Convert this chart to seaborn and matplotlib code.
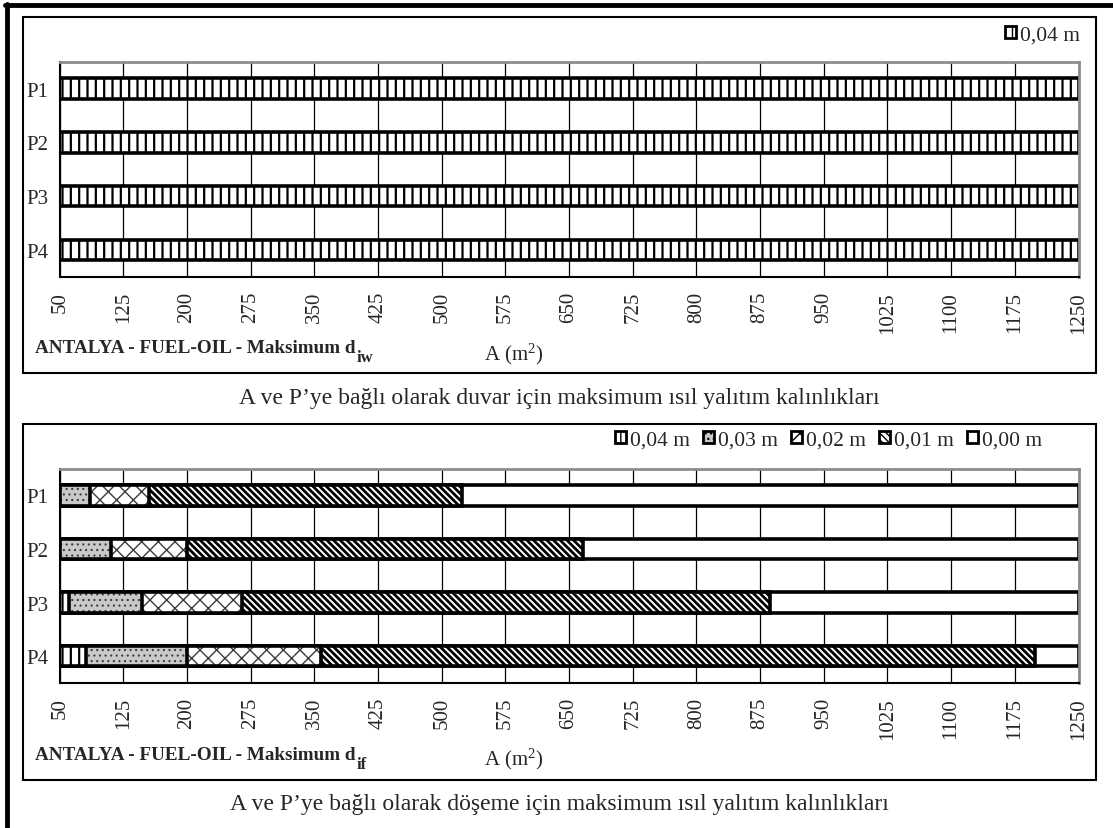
import matplotlib
matplotlib.use("Agg")
import matplotlib.pyplot as plt
import seaborn as sns
from matplotlib.patches import Patch, Rectangle
from matplotlib.lines import Line2D

# ---- data -------------------------------------------------------------
categories = ["P1", "P2", "P3", "P4"]
thickness_labels = ["0,04 m", "0,03 m", "0,02 m", "0,01 m", "0,00 m"]
area_ticks = list(range(50, 1251, 75))

# wall: upper limit of A (m2) for each insulation thickness
wall_ends_004 = [1250, 1250, 1250, 1250]

# floor: upper limit of A (m2) for each insulation thickness
floor_ends_004 = [50, 50, 61, 81]
floor_ends_003 = [86, 110, 147, 200]
floor_ends_002 = [155, 200, 265, 358]
floor_ends_001 = [524, 666, 887, 1199]
floor_ends_000 = [1250, 1250, 1250, 1250]

# ---- style ------------------------------------------------------------
sns.set_style("white")
plt.rcParams["font.family"] = ["Liberation Serif", "DejaVu Serif"]
plt.rcParams["mathtext.fontset"] = "custom"
plt.rcParams["mathtext.rm"] = "Liberation Serif"
plt.rcParams["mathtext.bf"] = "Liberation Serif:bold"
plt.rcParams["mathtext.it"] = "Liberation Serif:italic"

# face, hatch, hatch colour, hatch line width
styles = {
    "0,04 m": ("white", "||", "black", 1.6),
    "0,03 m": ("#c9c9c9", "...", "#3c3c3c", 0.8),
    "0,02 m": ("white", "xx", "#3a3a3a", 1.0),
    "0,01 m": ("white", "\\\\\\\\\\", "black", 2.0),
    "0,00 m": ("white", "", "black", 1.0),
}

TICK_FS = 15
LEG_FS = 15.5
TITLE_FS = 13.8
SUB_FS = 12
CAP_FS = 17
W, H = 1113, 829
BAR_W = 0.38


def draw_segment(ax, ends, label):
    face, hatch, hcol, hlw = styles[label]
    with plt.rc_context({"hatch.linewidth": hlw}):
        sns.barplot(x=ends, y=categories, orient="h", width=BAR_W,
                    color=face, edgecolor=hcol, linewidth=0, hatch=hatch,
                    ax=ax)
        for p in ax.patches[-len(categories):]:
            if hasattr(p, "set_hatch_linewidth"):
                p.set_hatch_linewidth(hlw)
    sns.barplot(x=ends, y=categories, orient="h", width=BAR_W,
                fill=False, color="black", linewidth=2.6, ax=ax)


def style_axes(ax):
    ax.set_xlim(50, 1250)
    ax.set_ylim(3.5, -0.5)
    ax.set_xticks(area_ticks)
    ax.set_xticklabels([str(t) for t in area_ticks], rotation=90,
                       fontsize=TICK_FS)
    ax.set_yticks(range(len(categories)))
    ax.set_yticklabels(categories, fontsize=TICK_FS)
    ax.set_yticks([i - 0.5 for i in range(len(categories) + 1)], minor=True)
    ax.tick_params(axis="y", which="major", length=0, pad=8)
    ax.tick_params(axis="y", which="minor", length=5, width=1.2,
                   direction="out", color="black")
    ax.tick_params(axis="x", length=5, width=1.2, direction="out",
                   color="black", pad=5)
    ax.grid(axis="x", color="black", linewidth=0.9)
    ax.grid(axis="y", visible=False)
    ax.set_axisbelow(True)
    ax.set_xlabel("")
    ax.set_ylabel("")
    for s in ("left", "bottom"):
        ax.spines[s].set_color("black")
        ax.spines[s].set_linewidth(1.5)
    for s in ("top", "right"):
        ax.spines[s].set_color("#8c8c8c")
        ax.spines[s].set_linewidth(2.0)
        ax.spines[s].set_visible(True)


def legend_handles(labels):
    hs = []
    for lab in labels:
        face, hatch, hcol, hlw = styles[lab]
        hs.append(Patch(facecolor=face, edgecolor="black", hatch=hatch,
                        linewidth=2.0, label=lab))
    return hs


def panel_title(ax, y_px, sub):
    t = ax.figure.text(35 / W, 1 - y_px / H, "ANTALYA - FUEL-OIL - Maksimum d",
                       fontsize=TITLE_FS, fontweight="bold", ha="left",
                       va="baseline")
    ax.annotate(sub, xy=(1, 0), xycoords=t, xytext=(0.5, -3.5),
                textcoords="offset points", fontsize=SUB_FS,
                fontweight="bold", ha="left", va="baseline",
                annotation_clip=False)


fig = plt.figure(figsize=(W / 100, H / 100), dpi=100)

left = 59.7 / W
width = (1078.5 - 59.7) / W
ax1 = fig.add_axes([left, 1 - 278 / H, width, (278 - 62.7) / H])
ax2 = fig.add_axes([left, 1 - 684 / H, width, (684 - 469.5) / H])

# ---- wall panel -------------------------------------------------------
draw_segment(ax1, wall_ends_004, "0,04 m")
style_axes(ax1)

# ---- floor panel (overlay from widest to narrowest) --------------------
floor_series = [
    ("0,00 m", floor_ends_000),
    ("0,01 m", floor_ends_001),
    ("0,02 m", floor_ends_002),
    ("0,03 m", floor_ends_003),
    ("0,04 m", floor_ends_004),
]
for lab, ends in floor_series:
    draw_segment(ax2, ends, lab)
style_axes(ax2)

# ---- legends ----------------------------------------------------------
leg_kw = dict(frameon=False, fontsize=LEG_FS, handlelength=0.5,
              handleheight=0.5, handletextpad=0.2, columnspacing=0.6,
              borderpad=0, borderaxespad=0)
fig.legend(handles=legend_handles(["0,04 m"]), loc="center right",
           bbox_to_anchor=(1080 / W, 1 - 36 / H), ncol=1, **leg_kw)
fig.legend(handles=legend_handles(thickness_labels), loc="center right",
           bbox_to_anchor=(1042 / W, 1 - 441 / H), ncol=5, **leg_kw)

# ---- panel texts ------------------------------------------------------
panel_title(ax1, 353, "iw")
fig.text(514 / W, 1 - 354 / H, r"A (m$^{2}$)", fontsize=TICK_FS,
         ha="center", va="center")
fig.text(559.5 / W, 1 - 399 / H,
         "A ve P’ye bağlı olarak duvar için maksimum ısıl yalıtım kalınlıkları",
         fontsize=CAP_FS, ha="center", va="center")

panel_title(ax2, 760, "if")
fig.text(514 / W, 1 - 759 / H, r"A (m$^{2}$)", fontsize=TICK_FS,
         ha="center", va="center")
fig.text(559.5 / W, 1 - 805 / H,
         "A ve P’ye bağlı olarak döşeme için maksimum ısıl yalıtım kalınlıkları",
         fontsize=CAP_FS, ha="center", va="center")

# ---- frames -----------------------------------------------------------
for y0, y1 in ((18, 374), (425, 781)):
    fig.add_artist(Rectangle((23 / W, 1 - y1 / H), (1096 - 23) / W,
                             (y1 - y0) / H, transform=fig.transFigure,
                             fill=False, edgecolor="black", linewidth=1.5))
fig.add_artist(Line2D([6.5 / W, 6.5 / W], [0, 1 - 5 / H],
                      transform=fig.transFigure, color="black", linewidth=3.5))
fig.add_artist(Line2D([5 / W, 1], [1 - 6 / H, 1 - 6 / H],
                      transform=fig.transFigure, color="black", linewidth=3.5))

fig.savefig("out.png", dpi=100)
